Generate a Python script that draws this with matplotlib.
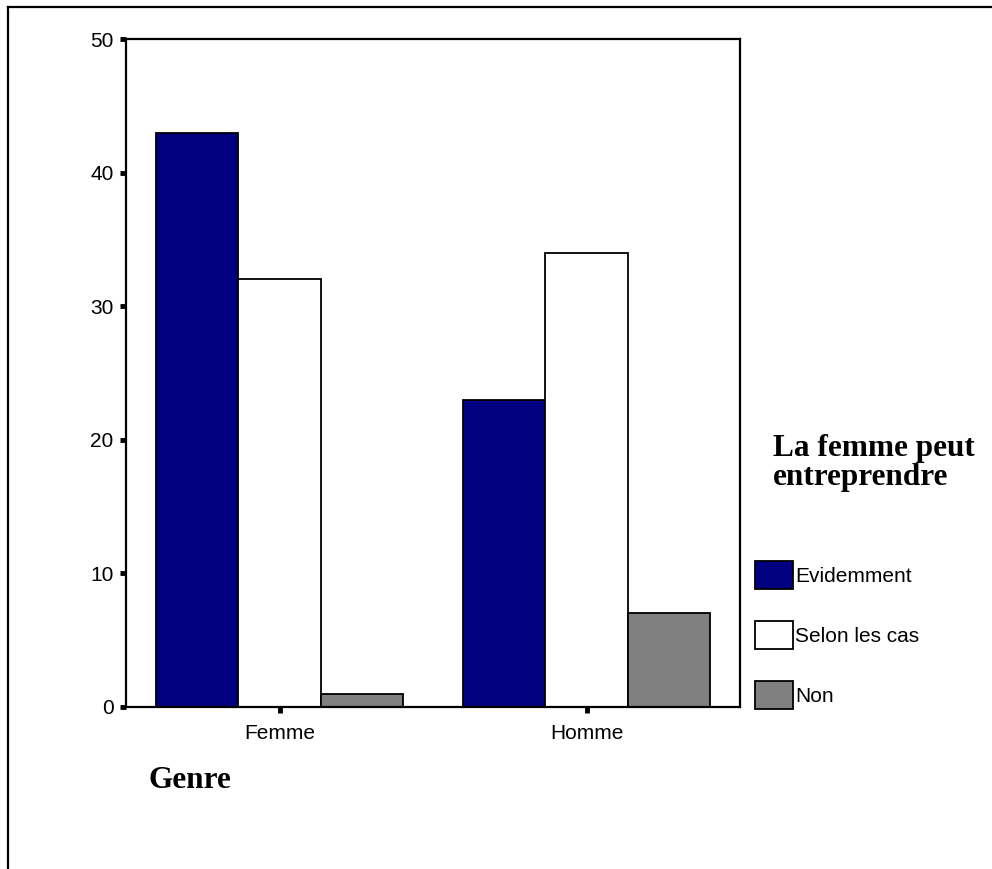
import matplotlib

matplotlib.use("Agg")
import matplotlib.pyplot as plt  # noqa: E402
import numpy as np  # noqa: E402
from matplotlib.lines import Line2D  # noqa: E402
from matplotlib.transforms import Bbox  # noqa: E402

genres = ["Femme", "Homme"]
series = ["Evidemment", "Selon les cas", "Non"]
evidemment = [43, 23]
selon_les_cas = [32, 34]
non = [1, 7]
colors = ["#000080", "#ffffff", "#808080"]
yticks = [0, 10, 20, 30, 40, 50]

W, H = 992, 869
fig = plt.figure(figsize=(W / 100, H / 100), dpi=100)
ax = fig.add_axes([126 / W, 1 - 707 / H, (740 - 126) / W, (707 - 39) / H])

x = np.arange(len(genres))
bw = 0.268
handles = []
for i, (vals, col) in enumerate(zip([evidemment, selon_les_cas, non], colors)):
    b = ax.bar(x + (i - 1) * bw, vals, bw, color=col, edgecolor="black",
               linewidth=1.3, label=series[i], zorder=2)
    handles.append(b)

ax.set_xlim(-0.5, 1.5)
ax.set_ylim(0, 50)
ax.set_yticks(yticks)
ax.set_xticks(x)
ax.set_xticklabels(genres)
for s in ax.spines.values():
    s.set_linewidth(1.6)
ax.tick_params(axis="both", direction="out", length=4, width=3.5,
               labelsize=15, labelfontfamily="Liberation Sans")
ax.tick_params(axis="y", pad=5)
ax.tick_params(axis="x", pad=8)

# outer frame (top and left edges)
fig.add_artist(Line2D([8 / W, 1], [1 - 7 / H, 1 - 7 / H], transform=fig.transFigure,
                      color="black", lw=1.6))
fig.add_artist(Line2D([8 / W, 8 / W], [0, 1 - 7 / H], transform=fig.transFigure,
                      color="black", lw=1.6))

g = fig.text(148 / W, 1 - 781 / H, "Genre", family="Liberation Serif",
             fontweight="bold", fontsize=22.5, va="center", ha="left")
g.set_clip_box(Bbox.from_extents(0, H - 789, W, H))
g.set_clip_on(True)
fig.text(773 / W, 1 - 463 / H, "La femme peut\nentreprendre", family="Liberation Serif",
         fontweight="bold", fontsize=22.5, va="center", ha="left", linespacing=0.98)

leg = fig.legend(handles=handles, loc="upper left", bbox_to_anchor=(755 / W, 1 - 561 / H),
                 frameon=False, prop={"family": "Liberation Sans", "size": 15},
                 handlelength=1.83, handleheight=1.69, handletextpad=0.08,
                 labelspacing=1.54, borderpad=0, borderaxespad=0)
clip = Bbox.from_extents(0, 0, 922, H)
for t in leg.get_texts():
    t.set_clip_box(clip)
    t.set_clip_on(True)

fig.savefig("out.png", dpi=100, facecolor="white")
